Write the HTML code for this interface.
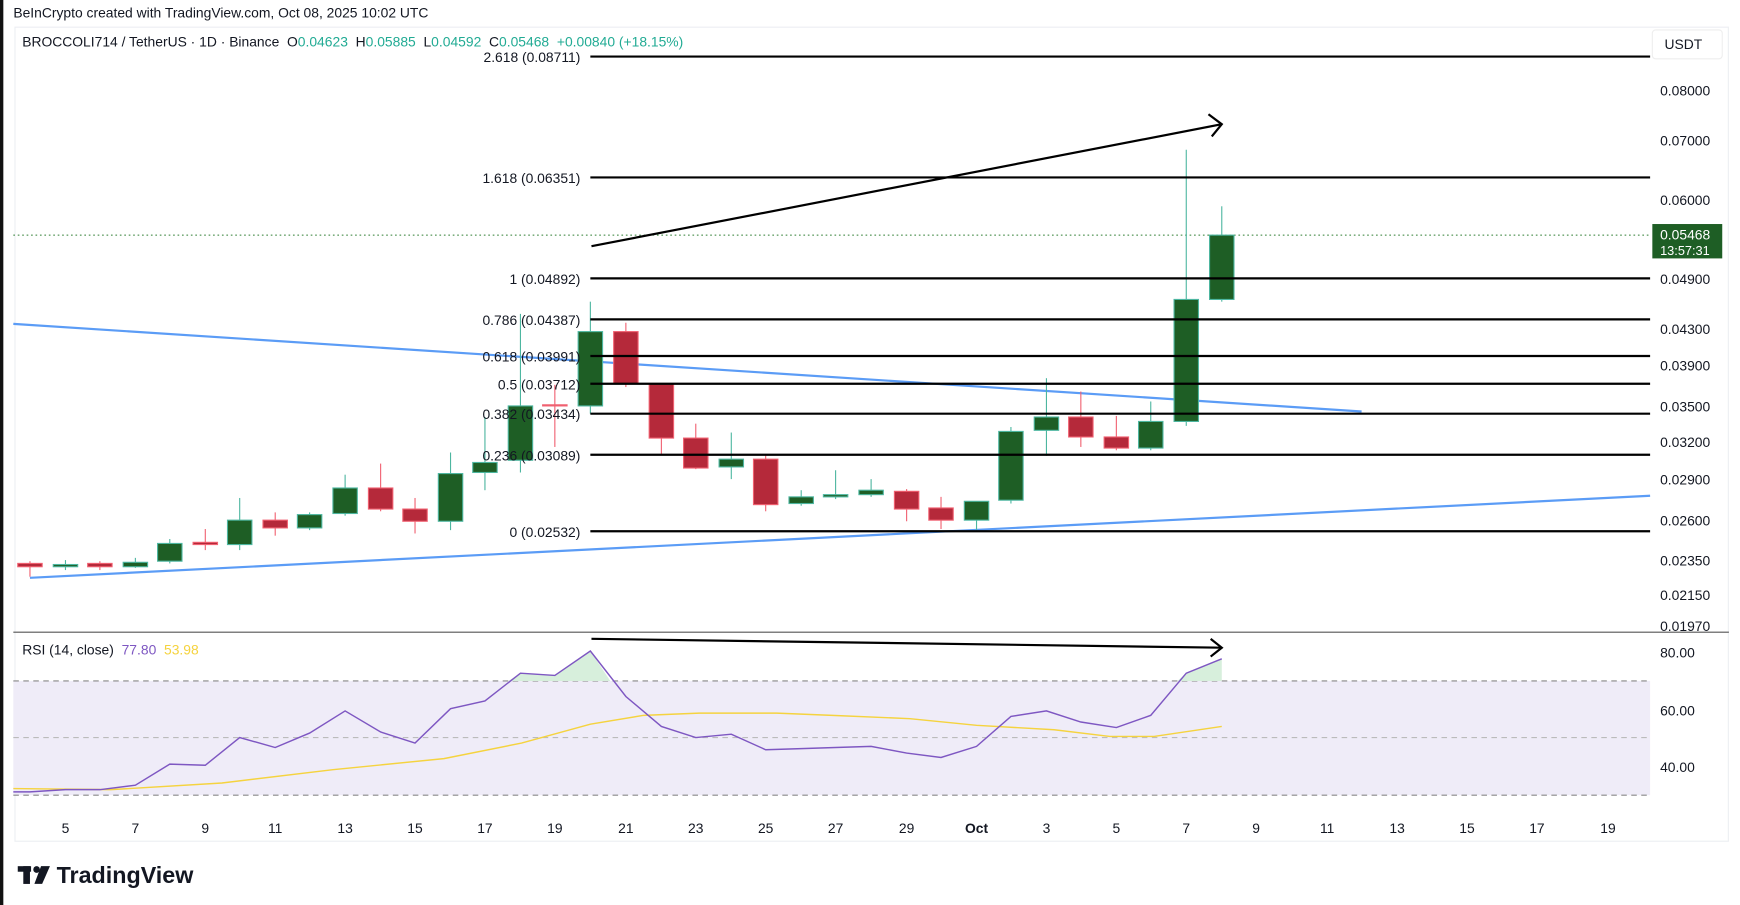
<!DOCTYPE html>
<html><head><meta charset="utf-8"><style>
html,body{margin:0;padding:0;background:#fff;}
svg{display:block;font-family:"Liberation Sans",sans-serif;}
</style></head><body>
<svg width="1740" height="905" viewBox="0 0 1568 816" preserveAspectRatio="none" xmlns="http://www.w3.org/2000/svg">
<rect x="0" y="0" width="1568" height="816" fill="#fff"/>
<rect x="0" y="0" width="3" height="816" fill="#111"/>
<text x="12" y="16" font-size="12.5" fill="#131722">BeInCrypto created with TradingView.com, Oct 08, 2025 10:02 UTC</text>
<rect x="13.5" y="24.5" width="1544" height="734" fill="none" stroke="#eceef2"/>
<rect x="12" y="614" width="1475" height="103" fill="#efecf8"/>
<g stroke="#888" stroke-dasharray="5,4" stroke-width="1">
<line x1="12" y1="614" x2="1487" y2="614"/><line x1="12" y1="665" x2="1487" y2="665" stroke="#bbb"/><line x1="12" y1="717" x2="1487" y2="717"/>
</g>
<line x1="12" y1="570" x2="1558" y2="570" stroke="#555" stroke-width="1"/>
<g font-size="12.5" fill="#131722">
<rect x="1489" y="27" width="63" height="26" rx="3" fill="#fff" stroke="#eee"/>
<text x="1500" y="44">USDT</text>
<text x="1496" y="86">0.08000</text><text x="1496" y="131">0.07000</text><text x="1496" y="185">0.06000</text>
<text x="1496" y="256">0.04900</text><text x="1496" y="301">0.04300</text><text x="1496" y="334">0.03900</text>
<text x="1496" y="371">0.03500</text><text x="1496" y="403">0.03200</text><text x="1496" y="437">0.02900</text>
<text x="1496" y="474">0.02600</text><text x="1496" y="510">0.02350</text><text x="1496" y="541">0.02150</text>
<text x="1496" y="569">0.01970</text>
<text x="1496" y="593">80.00</text><text x="1496" y="645">60.00</text><text x="1496" y="696">40.00</text>
</g>
<line x1="12" y1="212" x2="1487" y2="212" stroke="#2e7d32" stroke-dasharray="1.5,2.5" stroke-width="1"/>
<rect x="1489" y="202" width="63" height="31" fill="#1e5e25"/>
<text x="1496" y="216" font-size="12.5" fill="#fff">0.05468</text>
<text x="1496" y="230" font-size="11.5" fill="#fff">13:57:31</text>
<line x1="12" y1="292" x2="1227" y2="371" stroke="#5b9cf6" stroke-width="2"/>
<line x1="27" y1="521" x2="1487" y2="447" stroke="#5b9cf6" stroke-width="2"/>
<g stroke-width="1">
<g stroke="#f06070" fill="#b5293a">
<line x1="27" y1="506" x2="27" y2="520"/><rect x="16" y="508" width="22" height="3"/>
<line x1="90" y1="506" x2="90" y2="514"/><rect x="79" y="508" width="22" height="3"/>
<line x1="185" y1="477" x2="185" y2="496"/><rect x="174" y="489" width="22" height="2"/>
<line x1="248" y1="462" x2="248" y2="483"/><rect x="237" y="469" width="22" height="7"/>
<line x1="343" y1="418" x2="343" y2="461"/><rect x="332" y="440" width="22" height="19"/>
<line x1="374" y1="449" x2="374" y2="481"/><rect x="363" y="459" width="22" height="11"/>
<line x1="500" y1="347" x2="500" y2="403"/><rect x="489" y="365" width="22" height="1"/>
<line x1="564" y1="291" x2="564" y2="349"/><rect x="553" y="299" width="22" height="47"/>
<line x1="596" y1="346" x2="596" y2="410"/><rect x="585" y="346" width="22" height="49"/>
<line x1="627" y1="382" x2="627" y2="423"/><rect x="616" y="395" width="22" height="27"/>
<line x1="690" y1="410" x2="690" y2="461"/><rect x="679" y="414" width="22" height="41"/>
<line x1="817" y1="441" x2="817" y2="470"/><rect x="806" y="443" width="22" height="16"/>
<line x1="848" y1="448" x2="848" y2="477"/><rect x="837" y="458" width="22" height="11"/>
<line x1="974" y1="353" x2="974" y2="403"/><rect x="963" y="376" width="22" height="18"/>
<line x1="1006" y1="375" x2="1006" y2="406"/><rect x="995" y="394" width="22" height="10"/>
</g>
<g stroke="#4db6a0" fill="#1e5e25">
<line x1="59" y1="505" x2="59" y2="514"/><rect x="48" y="509" width="22" height="2"/>
<line x1="122" y1="503" x2="122" y2="512"/><rect x="111" y="507" width="22" height="4"/>
<line x1="153" y1="486" x2="153" y2="508"/><rect x="142" y="490" width="22" height="16"/>
<line x1="216" y1="449" x2="216" y2="496"/><rect x="205" y="469" width="22" height="22"/>
<line x1="279" y1="462" x2="279" y2="478"/><rect x="268" y="464" width="22" height="12"/>
<line x1="311" y1="428" x2="311" y2="465"/><rect x="300" y="440" width="22" height="23"/>
<line x1="406" y1="408" x2="406" y2="478"/><rect x="395" y="427" width="22" height="43"/>
<line x1="437" y1="376" x2="437" y2="442"/><rect x="426" y="417" width="22" height="9"/>
<line x1="469" y1="283" x2="469" y2="426"/><rect x="458" y="366" width="22" height="49"/>
<line x1="532" y1="272" x2="532" y2="373"/><rect x="521" y="299" width="22" height="67"/>
<line x1="659" y1="390" x2="659" y2="432"/><rect x="648" y="414" width="22" height="7"/>
<line x1="722" y1="442" x2="722" y2="456"/><rect x="711" y="448" width="22" height="6"/>
<line x1="753" y1="424" x2="753" y2="450"/><rect x="742" y="446" width="22" height="2"/>
<line x1="785" y1="432" x2="785" y2="448"/><rect x="774" y="442" width="22" height="4"/>
<line x1="880" y1="452" x2="880" y2="478"/><rect x="869" y="452" width="22" height="17"/>
<line x1="911" y1="385" x2="911" y2="454"/><rect x="900" y="389" width="22" height="62"/>
<line x1="943" y1="341" x2="943" y2="411"/><rect x="932" y="376" width="22" height="12"/>
<line x1="1037" y1="362" x2="1037" y2="406"/><rect x="1026" y="380" width="22" height="24"/>
<line x1="1069" y1="135" x2="1069" y2="384"/><rect x="1058" y="270" width="22" height="110"/>
<line x1="1101" y1="186" x2="1101" y2="272"/><rect x="1090" y="212" width="22" height="58"/>
</g>
</g>
<g stroke="#000" stroke-width="2">
<line x1="532" y1="51" x2="1487" y2="51"/><line x1="532" y1="160" x2="1487" y2="160"/>
<line x1="532" y1="251" x2="1487" y2="251"/><line x1="532" y1="288" x2="1487" y2="288"/>
<line x1="532" y1="321" x2="1487" y2="321"/><line x1="532" y1="346" x2="1487" y2="346"/>
<line x1="532" y1="373" x2="1487" y2="373"/><line x1="532" y1="410" x2="1487" y2="410"/>
<line x1="532" y1="479" x2="1487" y2="479"/>
</g>
<g font-size="12.5" fill="#131722" text-anchor="end">
<text x="523" y="56">2.618 (0.08711)</text><text x="523" y="165">1.618 (0.06351)</text>
<text x="523" y="256">1 (0.04892)</text><text x="523" y="293">0.786 (0.04387)</text>
<text x="523" y="326">0.618 (0.03991)</text><text x="523" y="351">0.5 (0.03712)</text>
<text x="523" y="378">0.382 (0.03434)</text><text x="523" y="415">0.236 (0.03089)</text>
<text x="523" y="484">0 (0.02532)</text>
</g>
<g stroke="#000" stroke-width="2" fill="none">
<line x1="533" y1="222" x2="1101" y2="112"/><polyline points="1089,103 1101,112 1092,123"/>
<line x1="533" y1="576" x2="1101" y2="584"/><polyline points="1091,576 1101,584 1091,592"/>
</g>
<polygon points="458,614 469,607 500,609 532,587 550,614" fill="#d7efdc"/>
<polygon points="1061,614 1069,607 1101,594 1101,614" fill="#d7efdc"/>
<polyline fill="none" stroke="#f5d33f" stroke-width="1.3" points="12,711 100,712 200,706 300,694 400,684 470,670 532,653 580,645 630,643 700,643 750,645 820,648 880,654 950,658 1000,664 1040,664 1101,655"/>
<polyline fill="none" stroke="#7e57c2" stroke-width="1.3" points="12,714 27,714 59,712 90,712 122,708 153,689 185,690 216,665 248,674 279,661 311,641 343,660 374,670 406,639 437,632 469,607 500,609 532,587 564,628 596,655 627,665 659,662 690,676 722,675 753,674 785,673 817,679 848,683 880,673 911,646 943,641 974,651 1006,656 1037,645 1069,607 1101,594"/>
<text x="20" y="590" font-size="12.5" fill="#131722" style="white-space:pre">RSI (14, close)  <tspan fill="#7e57c2">77.80</tspan>  <tspan fill="#f5d33f">53.98</tspan></text>
<text x="20" y="42" font-size="12.5" fill="#131722" style="white-space:pre">BROCCOLI714 / TetherUS · 1D · Binance  O<tspan fill="#22ab94">0.04623</tspan>  H<tspan fill="#22ab94">0.05885</tspan>  L<tspan fill="#22ab94">0.04592</tspan>  C<tspan fill="#22ab94">0.05468  +0.00840 (+18.15%)</tspan></text>
<g font-size="12.5" fill="#131722" text-anchor="middle">
<text x="59" y="751">5</text><text x="122" y="751">7</text><text x="185" y="751">9</text><text x="248" y="751">11</text>
<text x="311" y="751">13</text><text x="374" y="751">15</text><text x="437" y="751">17</text><text x="500" y="751">19</text>
<text x="564" y="751">21</text><text x="627" y="751">23</text><text x="690" y="751">25</text><text x="753" y="751">27</text>
<text x="817" y="751">29</text><text x="880" y="751" font-weight="bold">Oct</text><text x="943" y="751">3</text>
<text x="1006" y="751">5</text><text x="1069" y="751">7</text><text x="1132" y="751">9</text><text x="1196" y="751">11</text>
<text x="1259" y="751">13</text><text x="1322" y="751">15</text><text x="1385" y="751">17</text><text x="1449" y="751">19</text>
</g>
<g fill="#131722">
<rect x="16" y="781" width="12" height="5"/><rect x="21" y="781" width="6" height="16"/>
<circle cx="33" cy="784" r="3"/><polygon points="37,781 45,781 38,797 31,797"/>
<text x="51" y="796" font-size="21" font-weight="bold">TradingView</text>
</g>
</svg>
</body></html>
